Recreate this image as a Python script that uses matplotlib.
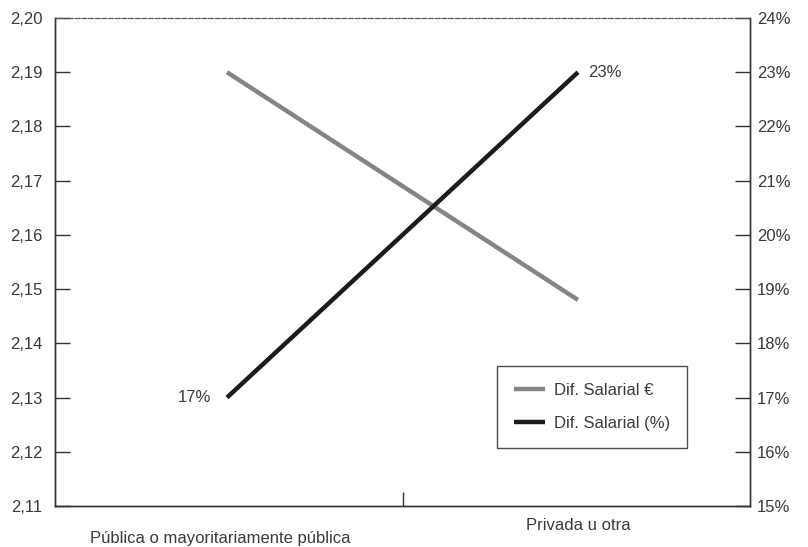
import matplotlib.pyplot as plt
from matplotlib.ticker import FuncFormatter

plt.rcParams['font.family'] = ['Liberation Sans', 'DejaVu Sans']

categories = ["Pública o mayoritariamente pública", "Privada u otra"]
dif_eur = [2.19, 2.148]
dif_pct = [17, 23]

fig = plt.figure(figsize=(8.08, 5.47), dpi=100)
ax = fig.add_axes([55 / 808, 41 / 547, 695 / 808, 488 / 547])
ax2 = ax.twinx()

x = [0, 1]
l1, = ax.plot(x, dif_eur, color='#858585', lw=3.2, solid_capstyle='butt')
l2, = ax2.plot(x, dif_pct, color='#1c1c1c', lw=3.2, solid_capstyle='butt')

ax.set_xlim(-0.49, 1.49)
ax.set_ylim(2.11, 2.20)
ax2.set_ylim(15, 24)
ax.set_yticks([2.11 + 0.01 * i for i in range(10)])
ax2.set_yticks(range(15, 25))
ax.yaxis.set_major_formatter(FuncFormatter(lambda v, p: f"{v:.2f}".replace('.', ',')))
ax2.yaxis.set_major_formatter(FuncFormatter(lambda v, p: f"{v:.0f}%"))

txt = '#3a3a3a'
fs = 12
for a, pad in ((ax, 9), (ax2, 5)):
    a.tick_params(axis='y', direction='in', length=11, width=1, colors='#333333',
                  labelsize=fs, labelcolor=txt, pad=pad)
    a.spines['top'].set_linestyle((0, (4, 2)))
    a.spines['top'].set_color('#555555')
    a.spines['top'].set_linewidth(0.8)
    for s in ('left', 'right', 'bottom'):
        a.spines[s].set_color('#333333')
        a.spines[s].set_linewidth(1)

ax.set_xticks([0.5])
ax.set_xticklabels([''])
ax.tick_params(axis='x', direction='in', length=10, width=1, colors='#333333')

# staggered category labels
ax.text(-0.02, -0.066, categories[0], transform=ax.get_xaxis_transform(), ha='center',
        va='center', fontsize=fs, color=txt)
ax.text(1, -0.04, categories[1], transform=ax.get_xaxis_transform(), ha='center',
        va='center', fontsize=fs, color=txt)

ax2.text(0 - 0.045, dif_pct[0], f"{dif_pct[0]}%", ha='right', va='center',
         fontsize=fs, color=txt)
ax2.text(1 + 0.03, dif_pct[1], f"{dif_pct[1]}%", ha='left', va='center',
         fontsize=fs, color=txt)

leg = ax2.legend([l1, l2], ["Dif. Salarial €", "Dif. Salarial (%)"],
                 loc='upper left', bbox_to_anchor=(442 / 695, (506 - 366) / 488),
                 fontsize=fs, frameon=True, fancybox=False, handlelength=1.9,
                 borderpad=1.0, labelspacing=1.1,
                 handletextpad=0.5, borderaxespad=0)
leg.get_frame().set_edgecolor('#222222')
leg.get_frame().set_linewidth(1)
for t in leg.get_texts():
    t.set_color(txt)

fig.savefig("out.png", dpi=100)
